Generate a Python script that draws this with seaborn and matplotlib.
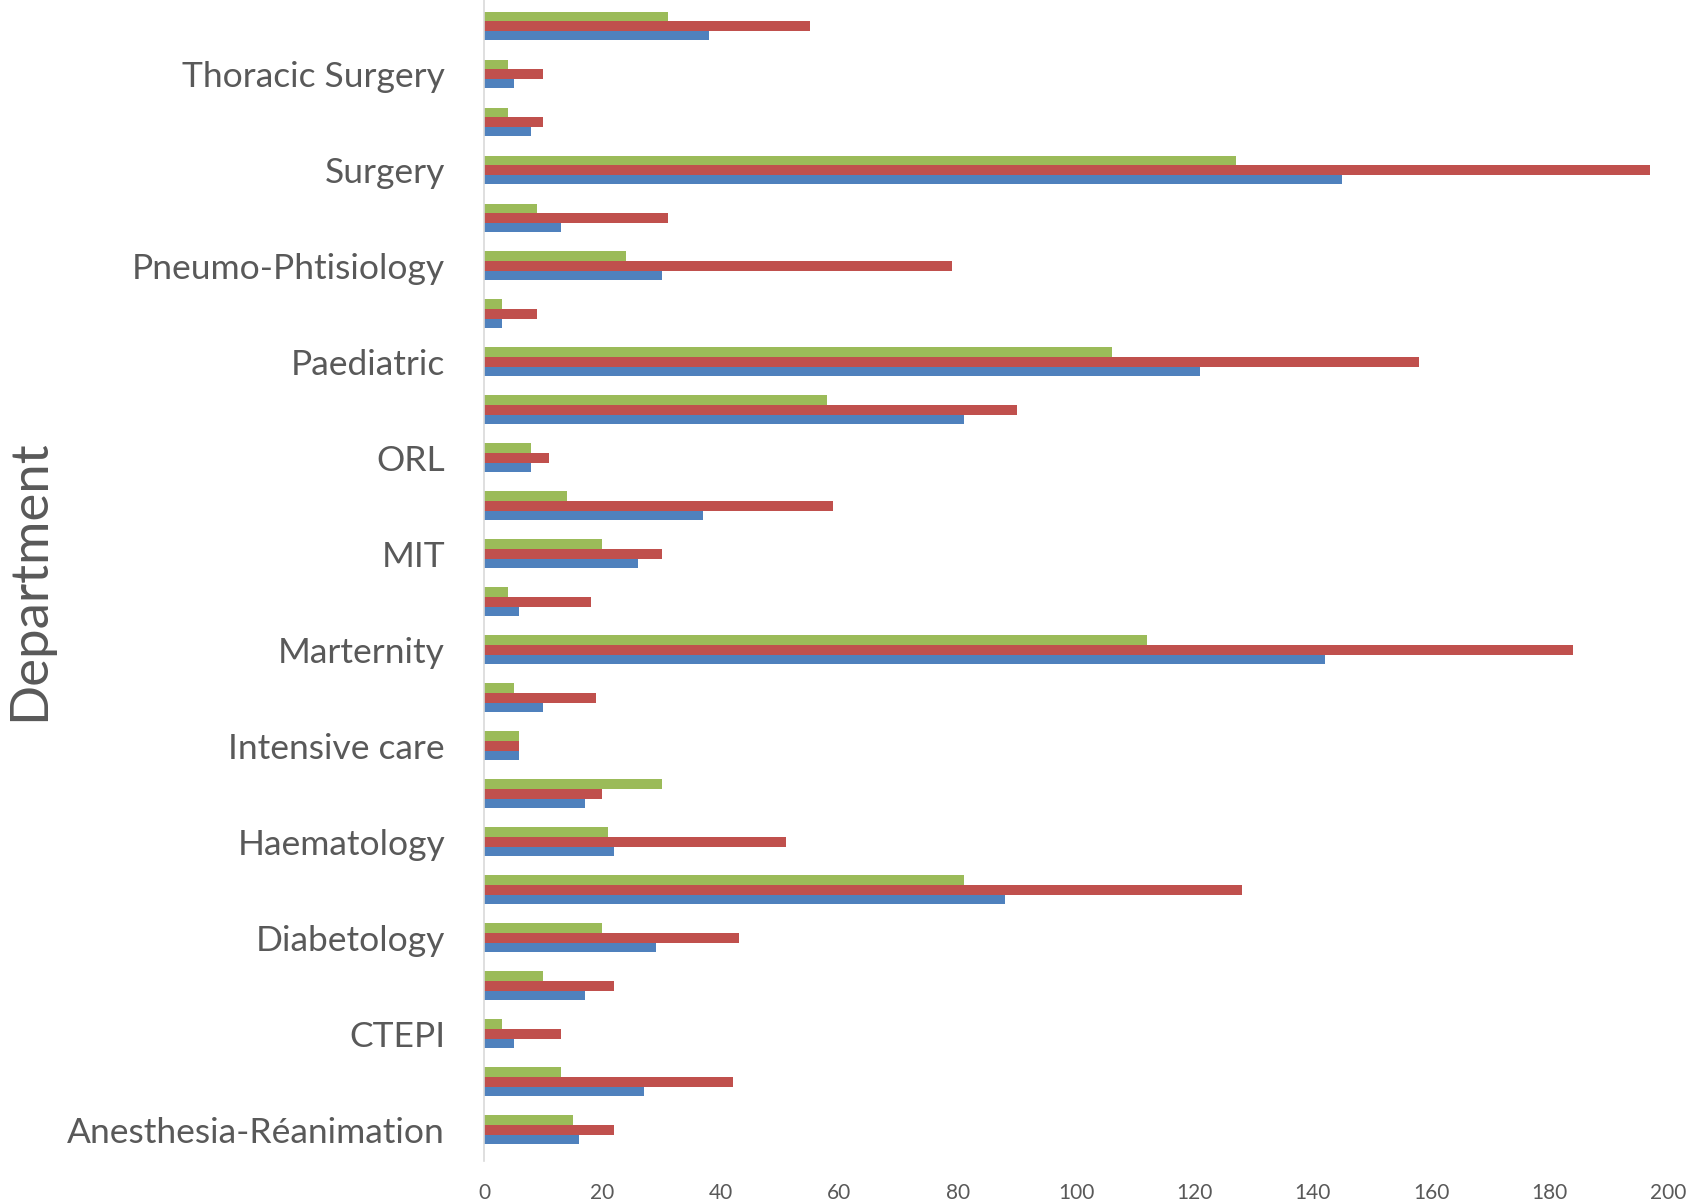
import pandas as pd
import matplotlib.pyplot as plt
import seaborn as sns

# departments from top to bottom of the chart ('' = row whose label is hidden)
departments = ['', 'Thoracic Surgery', '', 'Surgery', '', 'Pneumo-Phtisiology',
               '', 'Paediatric', '', 'ORL', '', 'MIT', '', 'Marternity', '',
               'Intensive care', '', 'Haematology', '', 'Diabetology', '', 'CTEPI',
               '', 'Anesthesia-Réanimation']

green_vals = [31, 4, 4, 127, 9, 24, 3, 106, 58, 8, 14, 20, 4, 112, 5, 6, 30, 21, 81, 20, 10, 3, 13, 15]
red_vals = [55, 10, 10, 197, 31, 79, 9, 158, 90, 11, 59, 30, 18, 184, 19, 6, 20, 51, 128, 43, 22, 13, 42, 22]
blue_vals = [38, 5, 8, 145, 13, 30, 3, 121, 81, 8, 37, 26, 6, 142, 10, 6, 17, 22, 88, 29, 17, 5, 27, 16]

series = ['Series 3', 'Series 2', 'Series 1']
colors = ['#9BBB59', '#C0504D', '#4F81BD']

rows = list(range(len(departments)))
df = pd.concat([
    pd.DataFrame({'row': rows, 'value': vals, 'series': name})
    for name, vals in zip(series, [green_vals, red_vals, blue_vals])
])

sns.set_style('white')
plt.rcParams['font.family'] = ['Lato', 'DejaVu Sans']

fig = plt.figure(figsize=(16.94, 12.04), dpi=100)
ax = fig.add_axes([0.2857, 0.0357, 0.699, 0.9643])

sns.barplot(data=df, y='row', x='value', hue='series', hue_order=series,
            palette=colors, orient='h', width=0.6, errorbar=None,
            saturation=1, linewidth=0, legend=False, ax=ax)

ax.set_xlim(0, 200)
ax.set_ylim(23.65, -0.54)
ax.set_xticks(range(0, 201, 20))
ax.set_yticks(rows)
ax.set_yticklabels(departments)
ax.tick_params(axis='y', length=0, pad=28, labelsize=25.5, labelcolor='#595959')
ax.tick_params(axis='x', length=0, pad=16, labelsize=15, labelcolor='#595959')

for side in ['top', 'right', 'bottom']:
    ax.spines[side].set_visible(False)
ax.spines['left'].set_color('#D9D9D9')
ax.spines['left'].set_linewidth(1.2)

ax.set_xlabel('')
ax.set_ylabel('Department', fontsize=38, color='#595959')
ax.yaxis.set_label_coords(-0.364, 0.5)

fig.savefig('out.png', dpi=100)
